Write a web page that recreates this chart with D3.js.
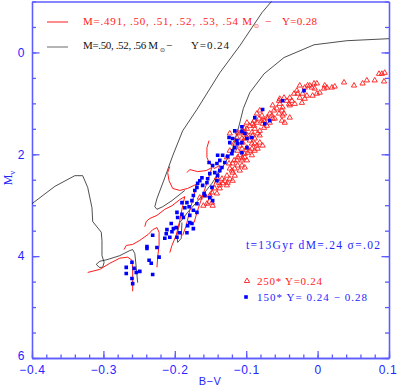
<!DOCTYPE html>
<html>
<head>
<meta charset="utf-8">
<script src="https://cdn.jsdelivr.net/npm/d3@7"></script>
<style>
body { margin: 0; background: #fff; }
</style>
</head>
<body>
<script>
var W = 397, H = 388;

// ticks
var xMajor = [-0.4, -0.3, -0.2, -0.1, 0, 0.1];
var xMinor = d3.range(-0.4, 0.1001, 0.02);
var yMajor = [0, 2, 4, 6];
var yMinor = d3.range(-1, 6.001, 0.5);

// 250 stars, Y=0.24 (red triangles) : [B-V, Mv]
var triangles = [
[0.094,0.40],[0.090,0.42],[0.086,0.42],[0.093,0.57],[0.080,0.55],[0.069,0.55],[0.063,0.61],[0.051,0.65],
[0.037,0.59],[0.024,0.67],[0.020,0.69],[0.013,0.69],[0.010,0.65],[0.009,0.71],[0.003,0.79],[-0.001,0.61],
[-0.004,0.71],[-0.005,0.61],[-0.008,0.69],[-0.011,0.65],[-0.014,0.65],[-0.015,0.85],[-0.018,0.69],[-0.018,0.91],
[-0.021,0.81],[-0.022,0.99],[-0.025,0.65],[-0.025,0.89],[-0.029,0.75],[-0.007,0.85],[-0.001,0.81],[-0.033,0.81],
[-0.039,0.89],[-0.036,0.95],[-0.043,0.95],[-0.047,0.89],[-0.053,0.91],[-0.054,0.95],[-0.028,0.81],[-0.053,1.01],
[-0.049,1.08],[-0.040,1.01],[-0.039,1.04],[-0.032,1.01],[-0.063,1.04],[-0.057,1.10],[-0.061,1.14],[-0.054,1.20],
[-0.050,1.14],[-0.067,1.20],[-0.071,1.28],[-0.064,1.24],[-0.047,1.20],[-0.060,1.30],[-0.081,1.14],[-0.078,1.24],
[-0.085,1.20],[-0.089,1.34],[-0.082,1.30],[-0.075,1.34],[-0.089,1.44],[-0.095,1.44],[-0.075,1.48],[-0.071,1.44],
[-0.099,1.38],[-0.103,1.48],[-0.049,1.24],[-0.046,1.38],[-0.039,1.28],[-0.050,1.34],[-0.067,1.38],[-0.077,1.40],
[-0.091,1.40],[-0.063,1.30],[-0.070,1.30],[-0.078,1.34],[-0.085,1.38],[-0.088,1.50],[-0.081,1.54],[-0.092,1.57],
[-0.099,1.50],[-0.105,1.54],[-0.098,1.63],[-0.091,1.63],[-0.084,1.59],[-0.102,1.69],[-0.095,1.73],[-0.088,1.69],
[-0.105,1.77],[-0.092,1.79],[-0.085,1.83],[-0.099,1.87],[-0.106,1.89],[-0.095,1.93],[-0.088,1.93],[-0.102,1.99],
[-0.092,2.02],[-0.109,2.02],[-0.105,2.08],[-0.077,1.83],[-0.081,1.77],[-0.084,1.89],[-0.106,2.22],[-0.123,1.59],
[-0.112,1.57],[-0.102,1.57],[-0.099,1.67],[-0.106,1.69],[-0.088,1.79],[-0.109,1.83],[-0.092,1.89],[-0.112,1.93],
[-0.098,1.97],[-0.102,2.06],[-0.112,2.06],[-0.113,2.12],[-0.106,2.12],[-0.099,2.12],[-0.119,2.18],[-0.112,2.22],
[-0.116,2.28],[-0.123,2.28],[-0.109,2.32],[-0.119,2.36],[-0.127,2.42],[-0.116,2.42],[-0.123,2.48],[-0.130,2.52],
[-0.119,2.52],[-0.126,2.56],[-0.133,2.57],[-0.137,2.61],[-0.127,2.61],[-0.144,2.67],[-0.148,2.75],[-0.141,2.77],
[-0.151,2.81],[-0.148,2.95],[-0.155,2.97],[-0.160,3.01],[-0.147,3.01],[-0.158,2.81],[-0.165,2.85],[-0.102,2.26],
[-0.117,1.79],[-0.113,1.67],[-0.109,1.59],[-0.081,1.63],[-0.120,2.32],[-0.124,2.18],[-0.134,2.48],[-0.123,1.93],
[-0.127,2.06],[-0.141,2.46],[-0.138,2.56],[-0.137,2.67],[-0.117,2.12]
];

// 150 stars, Y = 0.24 - 0.28 (blue squares)
var squares = [
[-0.019,0.75],[-0.049,0.95],[-0.077,1.12],[-0.088,1.28],[-0.067,1.34],[-0.074,1.40],[-0.106,1.46],[-0.106,1.55],
[-0.102,1.59],[-0.099,1.69],[-0.092,1.67],[-0.106,1.77],[-0.099,1.87],[-0.106,1.97],[-0.119,1.69],[-0.113,1.73],
[-0.123,1.77],[-0.112,1.79],[-0.116,1.87],[-0.119,1.93],[-0.120,1.99],[-0.126,2.04],[-0.133,2.02],[-0.140,2.02],
[-0.137,2.12],[-0.130,2.16],[-0.141,2.18],[-0.134,2.26],[-0.147,2.22],[-0.144,2.36],[-0.137,2.32],[-0.140,2.42],
[-0.151,2.38],[-0.154,2.48],[-0.141,2.52],[-0.165,2.52],[-0.168,2.57],[-0.161,2.61],[-0.155,2.56],[-0.169,2.65],
[-0.172,2.71],[-0.148,2.65],[-0.174,2.81],[-0.158,2.81],[-0.151,2.85],[-0.147,2.91],[-0.183,2.95],[-0.176,2.91],
[-0.169,2.97],[-0.190,2.95],[-0.186,3.05],[-0.174,3.10],[-0.169,3.14],[-0.179,3.20],[-0.188,3.24],[-0.179,3.34],
[-0.182,3.40],[-0.116,1.54],[-0.124,1.67],[-0.152,2.16],[-0.162,2.46],[-0.159,2.77],[-0.180,3.03],[-0.190,3.18],
[-0.196,3.24],[-0.205,3.36],[-0.198,3.44],[-0.176,3.36],[-0.211,3.48],[-0.204,3.52],[-0.193,3.54],[-0.183,3.54],
[-0.212,3.56],[-0.207,3.63],[-0.197,3.63],[-0.214,3.65],[-0.231,3.59],[-0.239,3.81],[-0.239,3.85],[-0.225,3.83],
[-0.222,4.02],[-0.236,4.08],[-0.233,4.14],[-0.231,4.36],[-0.260,4.12],[-0.268,4.22],[-0.257,4.24],[-0.254,4.32],
[-0.249,4.30],[-0.268,4.34],[-0.260,4.44],[-0.259,4.54],[-0.174,3.46],[-0.197,3.14],[-0.202,3.46]
];

// HB tracks, Y=0.24 (black)
var blackTracks = [
  [[-0.252,4.52],[-0.254,4.22],[-0.256,3.95],[-0.259,3.87],[-0.263,3.89],[-0.277,3.99],[-0.295,4.07],[-0.305,4.10],
   [-0.310,4.16],[-0.306,4.22],[-0.301,4.22],[-0.299,4.12],[-0.302,3.99],[-0.302,3.69],[-0.303,3.53],[-0.315,3.32],
   [-0.316,3.05],[-0.322,2.65],[-0.329,2.42],[-0.340,2.42],[-0.368,2.63],[-0.400,2.97]],
  [[-0.186,2.71],[-0.204,2.91],[-0.217,3.03],[-0.225,3.08],[-0.228,3.03],[-0.225,2.87],[-0.214,2.46],[-0.203,2.03],
   [-0.189,1.54],[-0.169,1.12],[-0.137,0.40],[-0.109,-0.13],[-0.078,-0.78],[-0.064,-1.01]],
  [[0.100,-0.27],[0.041,-0.23],[-0.005,-0.15],[-0.047,0.10],[-0.075,0.42],[-0.095,0.79],[-0.104,1.10],[-0.110,1.44],
   [-0.112,1.54],[-0.120,1.93],[-0.134,2.28],[-0.148,2.57],[-0.165,2.87],[-0.182,3.14],[-0.193,3.34],[-0.197,3.59],
   [-0.196,3.73],[-0.191,3.65],[-0.190,3.34]]
];

// HB tracks, Y=0.28 (red)
var redTracks = [
  [[-0.322,4.32],[-0.305,4.26],[-0.291,4.14],[-0.277,4.04],[-0.266,4.02],[-0.260,4.08],[-0.259,4.24],[-0.259,4.47],[-0.259,4.69]],
  [[-0.271,3.87],[-0.268,3.79],[-0.259,3.77],[-0.249,3.69],[-0.237,3.57],[-0.231,3.48],[-0.225,3.44],[-0.222,3.53],
   [-0.222,3.79],[-0.224,4.02],[-0.225,4.22]],
  [[-0.242,3.42],[-0.240,3.32],[-0.235,3.26],[-0.225,3.20],[-0.214,3.08],[-0.204,3.01],[-0.193,2.89],[-0.186,2.83],
   [-0.189,3.01],[-0.193,3.30],[-0.198,3.59],[-0.204,3.79],[-0.207,3.93]],
  [[-0.207,2.24],[-0.210,2.36],[-0.208,2.52],[-0.203,2.67],[-0.193,2.71],[-0.182,2.67],[-0.170,2.59],[-0.173,2.81],
   [-0.179,3.10],[-0.184,3.40],[-0.189,3.59]],
  [[-0.183,2.36],[-0.179,2.30],[-0.168,2.34],[-0.156,2.32],[-0.148,2.26],[-0.154,2.52],[-0.161,2.81],[-0.168,3.10],[-0.173,3.34]],
  [[-0.152,1.73],[-0.155,1.87],[-0.155,2.06],[-0.152,2.16],[-0.145,2.28],[-0.137,2.22],[-0.142,2.48],[-0.149,2.75],[-0.156,3.01]]
];

var blue = "#2424ff", axisBlue = "#5c5cff", red = "#ff1a1a";
var serif = "Liberation Serif";

var svg = d3.select("body").append("svg").attr("width", W).attr("height", H);

var x = d3.scaleLinear().domain([-0.4, 0.1]).range([32, 389]);
var y = d3.scaleLinear().domain([-1, 6]).range([1.5, 358]);

svg.append("clipPath").attr("id", "plot")
  .append("rect").attr("x", 32).attr("y", 1.5).attr("width", 357).attr("height", 356.5);

var fmtX = function(d) { return d === 0 ? "0" : d3.format(".1f")(d); };

// minor ticks
svg.append("g").attr("transform", "translate(0,358)")
  .call(d3.axisBottom(x).tickValues(xMinor).tickSize(-3.5).tickSizeOuter(0).tickFormat(""));
svg.append("g").attr("transform", "translate(32,0)")
  .call(d3.axisLeft(y).tickValues(yMinor).tickSize(-4).tickSizeOuter(0).tickFormat(""));
svg.append("g").attr("transform", "translate(389,0)")
  .call(d3.axisRight(y).tickValues(yMinor).tickSize(-4).tickSizeOuter(0).tickFormat(""));
// major ticks
svg.append("g").attr("class", "ax").attr("transform", "translate(0,358)")
  .call(d3.axisBottom(x).tickValues(xMajor).tickSize(-7).tickSizeOuter(0).tickPadding(7).tickFormat(fmtX));
svg.append("g").attr("class", "ax").attr("transform", "translate(32,0)")
  .call(d3.axisLeft(y).tickValues(yMajor).tickSize(-7.5).tickSizeOuter(0).tickPadding(7).tickFormat(d3.format("d")));
svg.append("g").attr("transform", "translate(389,0)")
  .call(d3.axisRight(y).tickValues(yMajor).tickSize(-7.5).tickSizeOuter(0).tickFormat(""));
svg.append("g").attr("transform", "translate(0,1.5)")
  .call(d3.axisTop(x).tickValues([]).tickSizeOuter(0));

svg.selectAll(".domain, .tick line").attr("stroke", axisBlue).attr("stroke-width", 1.3);
svg.selectAll(".ax text").attr("fill", blue).attr("font-size", 12)
  .attr("font-family", "Liberation Sans").attr("letter-spacing", 0.7);
// lift the bottom y label a little off the x labels
svg.selectAll(".ax text").filter(function(d) { return d === 6; }).attr("dy", "0.1em");
// keep the last x label inside the page
svg.selectAll(".ax text").filter(function(d) { return d === 0.1; }).attr("text-anchor", "end").attr("x", 8);

var line = d3.line().x(function(d) { return x(d[0]); }).y(function(d) { return y(d[1]); });

var plot = svg.append("g").attr("clip-path", "url(#plot)");

plot.selectAll(".btrack").data(blackTracks).enter().append("path")
  .attr("d", line).attr("fill", "none").attr("stroke", "#222").attr("stroke-width", 0.8);

plot.selectAll(".rtrack").data(redTracks).enter().append("path")
  .attr("d", line).attr("fill", "none").attr("stroke", red).attr("stroke-width", 1);

var tri = d3.symbol().type(d3.symbolTriangle).size(12);
var sq = d3.symbol().type(d3.symbolSquare).size(13);

plot.selectAll(".tri").data(triangles).enter().append("path")
  .attr("d", tri).attr("transform", function(d) { return "translate(" + x(d[0]) + "," + y(d[1]) + ")"; })
  .attr("fill", "none").attr("stroke", red).attr("stroke-width", 0.9);

plot.selectAll(".sq").data(squares).enter().append("path")
  .attr("d", sq).attr("transform", function(d) { return "translate(" + x(d[0]) + "," + y(d[1]) + ")"; })
  .attr("fill", "#0000ff");

// legend, top
svg.append("line").attr("x1", 47).attr("x2", 68).attr("y1", 22).attr("y2", 22).attr("stroke", red).attr("stroke-width", 1);
svg.append("line").attr("x1", 47).attr("x2", 68).attr("y1", 47).attr("y2", 47).attr("stroke", "#b4b4b4").attr("stroke-width", 2);

function label(txt, px, py, color, size, len) {
  var t = svg.append("text").attr("x", px).attr("y", py).attr("fill", color)
    .attr("font-size", size).attr("font-family", serif).text(txt);
  if (len) t.attr("textLength", len).attr("lengthAdjust", "spacing");
  return t;
}
label("M=.491,  .50,  .51,  .52,  .53,  .54  M", 83, 25, red, 11, 169);
label("\u2299", 254, 28, red, 6);
label("\u2212", 265, 25, red, 11);
label("Y=0.28", 282, 25, red, 11, 35);

label("M=.50,  .52,  .56  M", 83, 48.5, "#111", 11, 75);
label("\u2299", 159.5, 51.5, "#111", 6);
label("\u2212", 166, 48.5, "#111", 11);
label("Y=0.24", 191, 48.5, "#111", 11, 38);

label("t=13Gyr  dM=.24  \u03c3=.02", 246, 249, blue, 11.5, 134);

svg.append("path").attr("d", tri).attr("transform", "translate(247,281)")
  .attr("fill", "none").attr("stroke", red).attr("stroke-width", 0.9);
label("250*  Y=0.24", 257, 285, red, 11, 65);
svg.append("path").attr("d", sq).attr("transform", "translate(246,297)").attr("fill", "#0000ff");
label("150*  Y=  0.24  \u2212  0.28", 257, 301, blue, 11, 110);

// axis titles
svg.append("text").attr("transform", "translate(12,178) rotate(-90)")
  .attr("text-anchor", "middle").attr("fill", blue).attr("font-size", 12).attr("font-family", serif)
  .html('M<tspan font-size="8" dy="3">v</tspan>');
svg.append("text").attr("x", 210).attr("y", 385).attr("text-anchor", "middle").attr("font-family", "Liberation Sans")
  .attr("fill", blue).attr("font-size", 11).attr("letter-spacing", 0.5).text("B\u2212V");
</script>
</body>
</html>
